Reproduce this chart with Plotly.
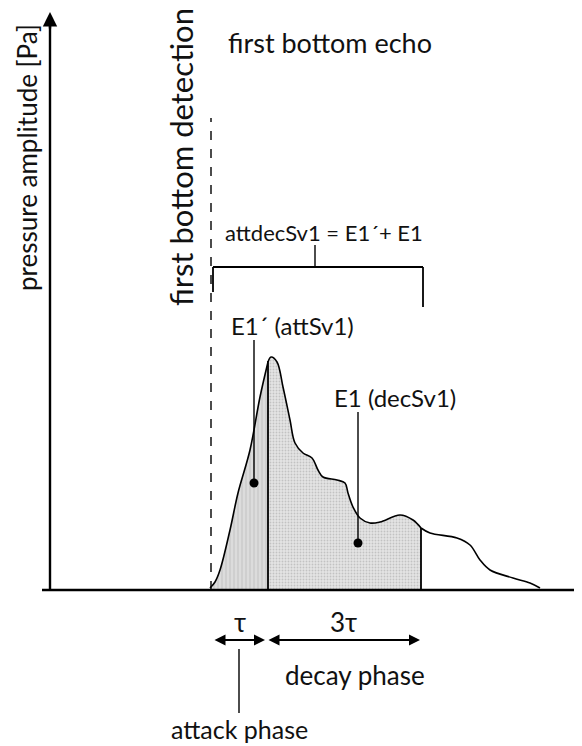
import plotly.graph_objects as go

# curve points (x position, amplitude above baseline)
attack_x = [210, 215, 220, 230, 238, 250, 260, 268]
attack_y = [2, 8, 20, 60, 97, 140, 193, 228]
decay_x = [268, 271, 277, 283, 290, 295, 303, 312, 318, 323, 337, 345, 348, 353, 360, 370, 380, 400, 413, 421]
decay_y = [228, 233, 228, 203, 170, 147, 137, 132, 120, 113, 110, 107, 97, 83, 72, 67, 68, 75, 70, 62]
tail_x = [421, 430, 457, 470, 480, 490, 513, 530, 540]
tail_y = [62, 57, 52, 45, 30, 20, 12, 7, 2]

FONT = "Lato, Open Sans, sans-serif"
fig = go.Figure()

fig.add_trace(go.Scatter(x=attack_x, y=attack_y, mode="lines", line=dict(color="black", width=1.6, shape="spline"),
                         fill="tozeroy", fillcolor="#d6d6d6",
                         fillpattern=dict(shape="|", bgcolor="#dcdcdc", fgcolor="#a8a8a8", size=4, solidity=0.25)))
fig.add_trace(go.Scatter(x=decay_x, y=decay_y, mode="lines", line=dict(color="black", width=1.6, shape="spline"),
                         fill="tozeroy", fillcolor="#dedede",
                         fillpattern=dict(shape=".", bgcolor="#e4e4e4", fgcolor="#a0a0a0", size=3, solidity=0.3)))
fig.add_trace(go.Scatter(x=tail_x, y=tail_y, mode="lines", line=dict(color="black", width=1.6, shape="spline")))

# pointer dots
fig.add_trace(go.Scatter(x=[254, 358], y=[107, 47], mode="markers", marker=dict(color="black", size=9)))

shapes = []
def seg(x0, y0, x1, y1, w=1.6, dash="solid"):
    shapes.append(dict(type="line", x0=x0, y0=y0, x1=x1, y1=y1, line=dict(color="black", width=w, dash=dash)))

seg(42, 0, 590, 0, w=2.5)            # x axis
seg(50, 0, 50, 565, w=2.4)           # y axis
seg(211, 0, 211, 472, w=1.4, dash="dash")  # first bottom detection
seg(268, 0, 268, 229, w=1.8)         # end of attack
seg(421, 0, 421, 62, w=1.8)          # end of decay
# bracket
seg(213, 323, 423, 323, w=1.8)
seg(315, 323, 315, 345, w=1.4)
seg(423, 323, 423, 283, w=1.8)
seg(213, 323, 213, 298, w=1.8)
# pointers
seg(254, 250, 254, 107, w=1.4)
seg(358, 178, 358, 47, w=1.4)
seg(239, -59, 239, -123, w=1.4)

fig.update_layout(shapes=shapes)

ann = []
def txt(x, y, s, size, angle=0):
    ann.append(dict(x=x, y=y, text=s, showarrow=False, textangle=angle,
                    font=dict(family=FONT, size=size, color="#111111"), xanchor="center", yanchor="middle"))

txt(27, 432, "pressure amplitude [Pa]", 26, -90)
txt(181, 433, "first bottom detection", 31, -90)
txt(330, 548, "first bottom echo", 27)
txt(324, 358, "attdecSv1 = E1´+ E1", 22)
txt(292, 265, "E1´ (attSv1)", 24)
txt(395, 193, "E1 (decSv1)", 24)
txt(240, -32, "τ", 26)
txt(343, -32, "3τ", 26)
txt(355, -85, "decay phase", 26)
txt(239, -139, "attack phase", 25)

# arrows
ann.append(dict(x=50, y=578, ax=50, ay=560, axref="x", ayref="y", xref="x", yref="y", showarrow=True,
                arrowhead=2, arrowsize=1.2, arrowwidth=2.4, arrowcolor="black", text=""))
ann.append(dict(x=265, y=-50, ax=213, ay=-50, axref="x", ayref="y", xref="x", yref="y", showarrow=True,
                arrowhead=2, startarrowhead=2, arrowside="end+start", arrowsize=1.1, arrowwidth=2, arrowcolor="black", text=""))
ann.append(dict(x=420, y=-50, ax=267, ay=-50, axref="x", ayref="y", xref="x", yref="y", showarrow=True,
                arrowhead=2, startarrowhead=2, arrowside="end+start", arrowsize=1.1, arrowwidth=2, arrowcolor="black", text=""))
fig.update_layout(annotations=ann)

# page body has an 8px margin, so the visible window starts 8px into the drawing
fig.update_layout(
    width=582, height=746, margin=dict(l=0, r=0, t=0, b=0),
    plot_bgcolor="white", paper_bgcolor="white", showlegend=False,
    xaxis=dict(range=[8, 590], visible=False, fixedrange=True),
    yaxis=dict(range=[-164, 582], visible=False, fixedrange=True),
)
fig.write_html("out.html")
